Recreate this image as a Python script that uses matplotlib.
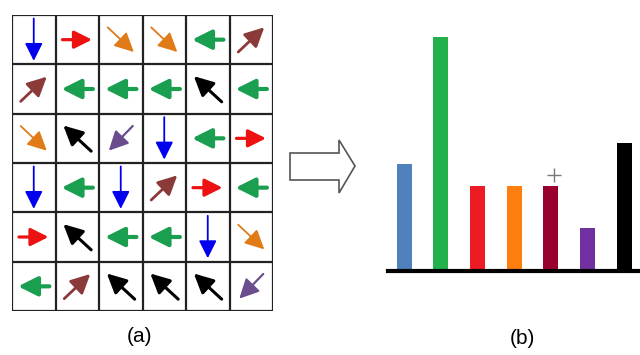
import numpy as np
import matplotlib
matplotlib.use('Agg')
import matplotlib.pyplot as plt
from matplotlib.patches import Polygon

# gradient direction of each cell, row by row (top row first)
grid_dirs = [
    ['D', 'R', 'DR', 'DR', 'L', 'UR'],
    ['UR', 'L', 'L', 'L', 'UL', 'L'],
    ['DR', 'UL', 'DL', 'D', 'L', 'R'],
    ['D', 'L', 'D', 'UR', 'R', 'L'],
    ['R', 'UL', 'L', 'L', 'D', 'DR'],
    ['L', 'UR', 'UL', 'UL', 'UL', 'DL'],
]

# histogram bins (one per direction) and their counts
bins = ['D', 'L', 'R', 'DR', 'UR', 'DL', 'UL']
counts = [5, 11, 4, 4, 4, 2, 6]
bar_colors = ['#4f81bd', '#22b14c', '#ed1c24', '#ff7f0e', '#99002e', '#7030a0', '#000000']

# arrow look per direction: vector (cell units, y down), colour, shaft width
arrow_vec = {'D': (0, 0.86), 'R': (0.68, 0), 'L': (-0.72, 0),
             'DR': (0.6, 0.5), 'UR': (0.6, -0.5), 'UL': (-0.64, -0.52), 'DL': (-0.55, 0.5)}
arrow_col = {'D': '#0000ee', 'R': '#ee1111', 'L': '#1a9e50', 'DR': '#e07b18',
             'UR': '#8b3a3a', 'UL': '#000000', 'DL': '#6b4d8e'}
arrow_lw = {'D': 1.3, 'R': 2.3, 'L': 3.0, 'DR': 1.3, 'UR': 2.0, 'UL': 2.2, 'DL': 1.6}
arrow_head = {'D': 12, 'R': 12, 'L': 13, 'DR': 13, 'UR': 13, 'UL': 13, 'DL': 13}

fig = plt.figure(figsize=(6.4, 3.55), dpi=100)

# --- (a) grid of arrows ---
ax1 = fig.add_axes([12/640, 44/355, 261/640, 296/355])
ax1.set_xlim(0, 6)
ax1.set_ylim(6, 0)
ax1.axis('off')
for k in range(7):
    ax1.plot([0, 6], [k, k], color='#222222', lw=1.6, solid_capstyle='butt')
    ax1.plot([k, k], [0, 6], color='#222222', lw=1.6, solid_capstyle='butt')

for r, row in enumerate(grid_dirs):
    for c, d in enumerate(row):
        vx, vy = arrow_vec[d]
        cx, cy = c + 0.5, r + 0.5
        ax1.annotate('', xy=(cx + vx/2, cy + vy/2), xytext=(cx - vx/2, cy - vy/2),
                     arrowprops=dict(arrowstyle='-|>,head_length=0.9,head_width=0.45',
                                     color=arrow_col[d], lw=arrow_lw[d],
                                     mutation_scale=arrow_head[d], shrinkA=0, shrinkB=0))

fig.text(140/640, 1 - 336/355, '(a)', ha='center', va='center', fontsize=15,
         family='Liberation Sans')

# --- hollow arrow between the panels ---
pts = [(290, 153), (339, 153), (339, 140), (355, 166), (339, 193), (339, 180), (290, 180)]
pts = [(x/640, 1 - y/355) for x, y in pts]
fig.patches.append(Polygon(pts, closed=True, transform=fig.transFigure,
                           facecolor='white', edgecolor='#555555', lw=1.2))

# --- (b) histogram ---
ax2 = fig.add_axes([388/640, 84/355, 252/640, 251/355])
x = np.arange(len(bins))
ax2.bar(x, counts, width=0.41, color=bar_colors)
ax2.plot(4.08, 4.5, marker='+', color='#777777', markersize=10, mew=1)
ax2.set_xlim(-0.44, 6.43)
ax2.set_ylim(0, 11.78)
for s in ['top', 'right', 'left']:
    ax2.spines[s].set_visible(False)
ax2.spines['bottom'].set_linewidth(3)
ax2.set_xticks([])
ax2.set_yticks([])

fig.text(522/640, 1 - 338/355, '(b)', ha='center', va='center', fontsize=15,
         family='Liberation Sans')

fig.savefig('out.png', dpi=100)
